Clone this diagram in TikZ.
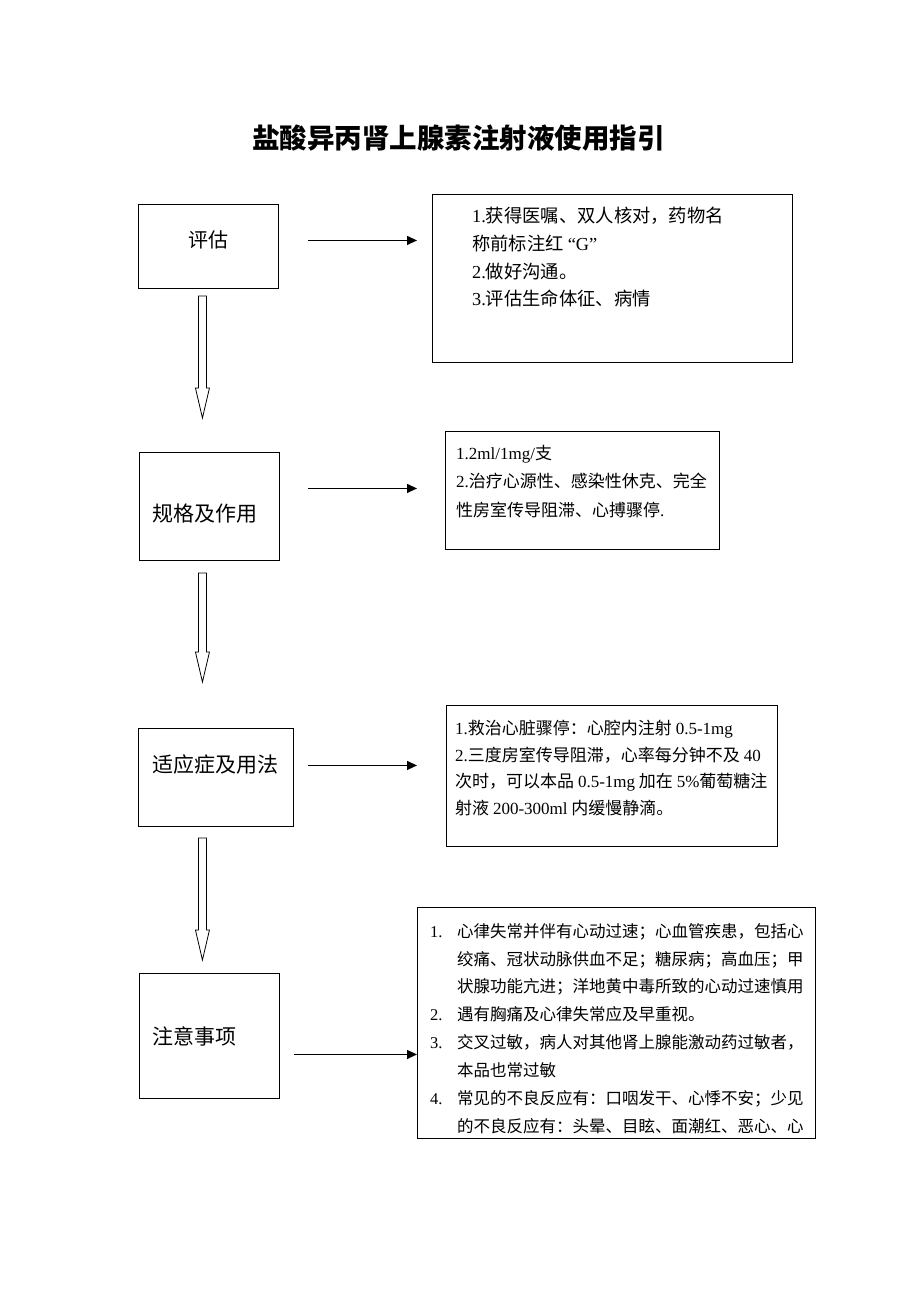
\documentclass[tikz,border=0pt]{standalone}
\usepackage{fontspec}
\setmainfont{Noto Sans CJK SC}
\newfontfamily\enfont{Liberation Serif}
\newcommand\lat[1]{{\enfont #1}}
\usetikzlibrary{arrows.meta,positioning,calc}

\begin{document}
\begin{tikzpicture}[
    x=1pt, y=-1pt,
    box/.style={rectangle, draw, line width=0.9pt, anchor=north west, inner sep=0pt},
    lbl/.style={inner sep=0pt, font=\fontsize{21}{25}\selectfont},
    txt/.style={inner sep=0pt, anchor=north west, align=left},
    arrow/.style={line width=1.2pt, -{Triangle[length=10pt,width=9pt]}},
    hollow/.style={draw, line width=0.8pt, to path={
        let \p1=(\tikztostart), \p2=(\tikztotarget) in
        (\x1-4pt,\y1) -- (\x1-4pt,\y2+30pt) -- (\x1-7pt,\y2+30pt) -- (\x1,\y2)
        -- (\x1+7pt,\y2+30pt) -- (\x1+4pt,\y2+30pt) -- (\x1+4pt,\y1) -- cycle}}
]
    \useasboundingbox (0,0) rectangle (920,1302);

    \node[font=\fontsize{27.5}{30}\selectfont\bfseries] (title) at (458.5,138) {盐酸异丙肾上腺素注射液使用指引};

    % left column
    \node[box, minimum width=140pt, minimum height=84pt] (pg) at (138,204) {};
    \node[box, minimum width=140pt, minimum height=108pt] (gg) at (139,452) {};
    \node[box, minimum width=155pt, minimum height=98pt] (sy) at (138,728) {};
    \node[box, minimum width=140pt, minimum height=125pt] (zy) at (139,973) {};

    \node[lbl, font=\fontsize{20}{24}\selectfont] (pg-t) at (208,240) {评估};
    \node[lbl] (gg-t) at (205,514) {规格及作用};
    \node[lbl] (sy-t) at (215,764) {适应症及用法};
    \node[lbl, anchor=west] (zy-t) at (152,1036) {注意事项};

    % right column
    \node[box, minimum width=360pt, minimum height=168pt] (r1) at (432,194) {};
    \node[box, minimum width=274pt, minimum height=118pt] (r2) at (445,431) {};
    \node[box, minimum width=331pt, minimum height=141pt] (r3) at (446,705) {};
    \node[box, minimum width=398pt, minimum height=231pt] (r4) at (417,907) {};

    \node[txt, font=\fontsize{18.3}{27.7}\selectfont] (r1-t) at (472,207)
        {\lat{1.}获得医嘱、双人核对，药物名\\
         称前标注红 \lat{“G”}\\
         \lat{2.}做好沟通。\\
         \lat{3.}评估生命体征、病情};
    \node[txt, font=\fontsize{17}{28.5}\selectfont] (r2-t) at (456,445)
        {\lat{1.2ml/1mg/}支\\
         \lat{2.}治疗心源性、感染性休克、完全\\
         性房室传导阻滞、心搏骤停\lat{.}};
    \node[txt, font=\fontsize{17}{26.7}\selectfont] (r3-t) at (455,720)
        {\lat{1.}救治心脏骤停：心腔内注射 \lat{0.5-1mg}\\
         \lat{2.}三度房室传导阻滞，心率每分钟不及 \lat{40}\\
         次时，可以本品 \lat{0.5-1mg} 加在 \lat{5\%}葡萄糖注\\
         射液 \lat{200-300ml} 内缓慢静滴。};
    \node[txt, font=\fontsize{16.5}{27.9}\selectfont] (r4-t) at (430,923)
        {\makebox[27pt][l]{\lat{1.}}心律失常并伴有心动过速；心血管疾患，包括心\\
         \makebox[27pt]{}绞痛、冠状动脉供血不足；糖尿病；高血压；甲\\
         \makebox[27pt]{}状腺功能亢进；洋地黄中毒所致的心动过速慎用\\
         \makebox[27pt][l]{\lat{2.}}遇有胸痛及心律失常应及早重视。\\
         \makebox[27pt][l]{\lat{3.}}交叉过敏，病人对其他肾上腺能激动药过敏者，\\
         \makebox[27pt]{}本品也常过敏\\
         \makebox[27pt][l]{\lat{4.}}常见的不良反应有：口咽发干、心悸不安；少见\\
         \makebox[27pt]{}的不良反应有：头晕、目眩、面潮红、恶心、心};

    % arrows to the right
    \coordinate (a1) at ([shift={(29,-6)}]pg.east);
    \coordinate (a2) at ([shift={(28,-18)}]gg.east);
    \coordinate (a3) at ([shift={(14,-12)}]sy.east);
    \coordinate (a4) at ([shift={(14,18.5)}]zy.east);
    \draw[arrow, shorten >=15pt] (a1) -- (a1 -| r1.west);
    \draw[arrow, shorten >=28pt] (a2) -- (a2 -| r2.west);
    \draw[arrow, shorten >=29pt] (a3) -- (a3 -| r3.west);
    \draw[arrow] (a4) -- (a4 -| r4.west);

    % hollow arrows down
    \draw[hollow] ([shift={(-6,7)}]pg.south) to ([shift={(-7,-34)}]gg.north);
    \draw[hollow] ([shift={(-7,12)}]gg.south) to ([shift={(-13.5,-46)}]sy.north);
    \draw[hollow] ([shift={(-13.5,11)}]sy.south) to ([shift={(-7,-13)}]zy.north);
\end{tikzpicture}
\end{document}
